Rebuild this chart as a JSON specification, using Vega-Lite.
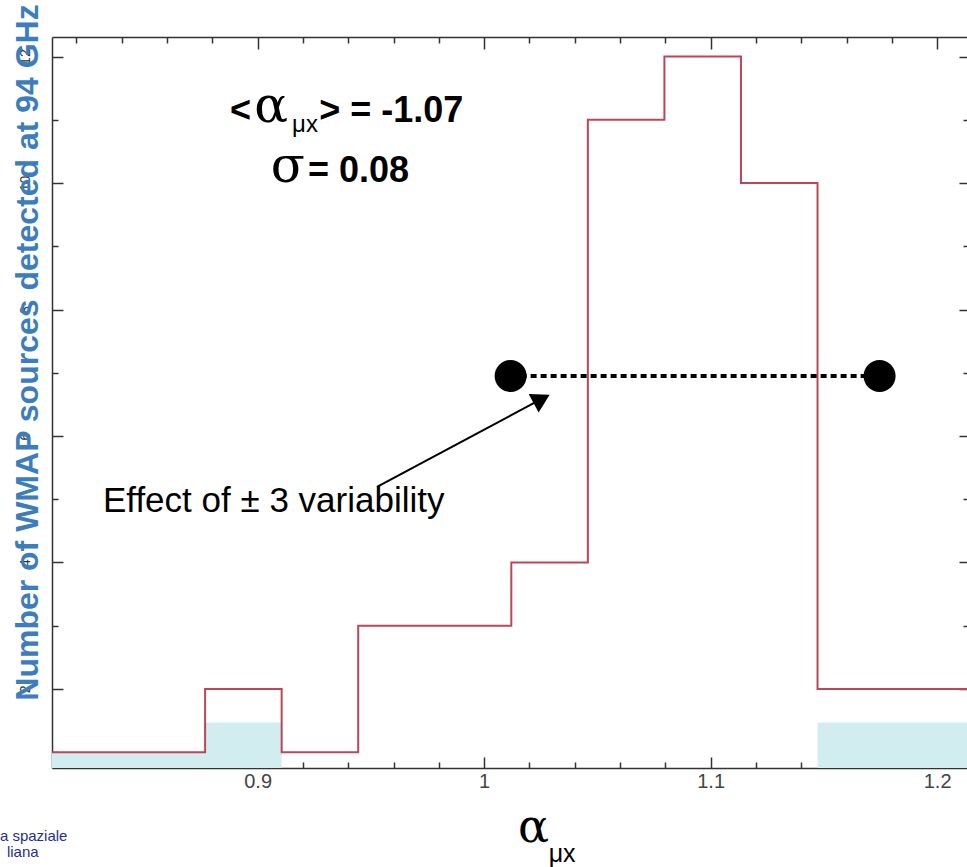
{
  "$schema": "https://vega.github.io/schema/vega-lite/v6.json",
  "width": 915,
  "height": 731,
  "autosize": "none",
  "padding": {"left": 52, "top": 37, "right": 0, "bottom": 99},
  "background": "white",
  "config": {"view": {"stroke": null}, "font": "Liberation Sans"},
  "datasets": {
    "hist": [
      {"x": 0.8092, "y": 1}, {"x": 0.843, "y": 1}, {"x": 0.8768, "y": 2}, {"x": 0.9106, "y": 1},
      {"x": 0.9444, "y": 3}, {"x": 0.9782, "y": 3}, {"x": 1.012, "y": 4}, {"x": 1.0458, "y": 11},
      {"x": 1.0796, "y": 12}, {"x": 1.1134, "y": 10}, {"x": 1.1472, "y": 2}, {"x": 1.181, "y": 2},
      {"x": 1.2148, "y": 2}
    ],
    "hatch": [
      {"x": 0.8092, "x2": 0.8768, "y": 0.75, "y2": 1},
      {"x": 0.8768, "x2": 0.9106, "y": 0.75, "y2": 1.47},
      {"x": 1.1472, "x2": 1.2148, "y": 0.75, "y2": 1.47}
    ]
  },
  "encoding": {
    "x": {"field": "x", "type": "quantitative", "scale": {"domain": [0.8092, 1.2132], "nice": false, "zero": false}, "axis": null},
    "y": {"field": "y", "type": "quantitative", "scale": {"domain": [0.75, 12.31], "nice": false, "zero": false}, "axis": null}
  },
  "layer": [
    {
      "data": {"name": "hatch"},
      "mark": {"type": "rect", "color": "#d2edef", "clip": true},
      "encoding": {
        "x": {"field": "x", "type": "quantitative", "scale": {"domain": [0.8092, 1.2132], "nice": false, "zero": false},
          "axis": {"orient": "bottom", "title": null, "grid": false,
            "values": [0.82,0.84,0.86,0.88,0.9,0.92,0.94,0.96,0.98,1.0,1.02,1.04,1.06,1.08,1.1,1.12,1.14,1.16,1.18,1.2],
            "labelExpr": "abs(datum.value*10-round(datum.value*10))<0.001 ? format(datum.value,'~g') : ''",
            "tickSize": {"condition": {"test": "abs(datum.value*10-round(datum.value*10))<0.001", "value": -11}, "value": -6},
            "tickColor": "#333", "tickWidth": 1.5, "domainColor": "#333", "domainWidth": 1.5,
            "labelFont": "Liberation Sans", "labelFontSize": 20, "labelColor": "#444", "labelPadding": 14, "labelFlush": false}},
        "x2": {"field": "x2"},
        "y": {"field": "y", "type": "quantitative", "scale": {"domain": [0.75, 12.31], "nice": false, "zero": false},
          "axis": {"orient": "left", "grid": false,
            "values": [1,2,3,4,5,6,7,8,9,10,11,12],
            "labelExpr": "datum.value % 2 === 0 ? datum.label : ''",
            "tickSize": {"condition": {"test": "datum.value % 2 === 0", "value": -11}, "value": -6},
            "tickColor": "#333", "tickWidth": 1.5, "domainColor": "#333", "domainWidth": 1.5,
            "labelAngle": -90, "labelFontSize": 14, "labelColor": "#333", "labelPadding": 31,
            "title": "Number of WMAP sources detected at 94 GHz",
            "titleFont": "Liberation Sans", "titleFontSize": 32, "titleFontWeight": "bold", "titleColor": "#3b7dbd",
            "titleAngle": -90, "titleX": -15, "titleY": 315, "titleBaseline": "alphabetic", "titleAlign": "center"}},
        "y2": {"field": "y2"}
      }
    },
    {
      "data": {"name": "hist"},
      "mark": {"type": "line", "interpolate": "step-after", "color": "#be4555", "strokeWidth": 2, "clip": true},
      "encoding": {
        "x": {"field": "x", "type": "quantitative", "scale": {"domain": [0.8092, 1.2132], "nice": false, "zero": false},
          "axis": {"orient": "top", "title": null, "grid": false, "labels": false,
            "values": [0.82,0.84,0.86,0.88,0.9,0.92,0.94,0.96,0.98,1.0,1.02,1.04,1.06,1.08,1.1,1.12,1.14,1.16,1.18,1.2],
            "tickSize": {"condition": {"test": "abs(datum.value*10-round(datum.value*10))<0.001", "value": -12}, "value": -6},
            "tickColor": "#333", "tickWidth": 1.5, "domainColor": "#333", "domainWidth": 1.5}},
        "y": {"field": "y", "type": "quantitative", "scale": {"domain": [0.75, 12.31], "nice": false, "zero": false},
          "axis": {"orient": "right", "title": null, "grid": false, "labels": false, "domain": false,
            "values": [1,2,3,4,5,6,7,8,9,10,11,12],
            "tickSize": {"condition": {"test": "datum.value % 2 === 0", "value": -8}, "value": -4},
            "tickColor": "#333", "tickWidth": 1.5}}
      }
    },
    {
      "data": {"values": [{"x": 1.0117, "x2": 1.1746, "y": 6.95}]},
      "mark": {"type": "rule", "color": "black", "strokeWidth": 4, "strokeDash": [6, 4]},
      "encoding": {"x2": {"field": "x2"}}
    },
    {
      "data": {"values": [{"x": 1.0117, "y": 6.95}, {"x": 1.1746, "y": 6.95}]},
      "mark": {"type": "point", "shape": "circle", "filled": true, "color": "black", "opacity": 1, "size": 1024}
    },
    {
      "data": {"values": [{"x": 0.9527, "y": 5.194, "x2": 1.0254, "y2": 6.586}]},
      "mark": {"type": "rule", "color": "black", "strokeWidth": 2},
      "encoding": {"x2": {"field": "x2"}, "y2": {"field": "y2"}}
    },
    {
      "data": {"values": [{"x": 1.0254, "y": 6.586}]},
      "mark": {"type": "point", "shape": "triangle-up", "filled": true, "color": "black", "opacity": 1, "size": 441, "angle": 61.6}
    },
    {
      "data": {"values": [{"x": 0.8878, "y": 10.966, "t": "<"}, {"x": 0.9272, "y": 10.966, "t": "> = -1.07"}, {"x": 0.9222, "y": 10.017, "t": "= 0.08"}]},
      "mark": {"type": "text", "font": "Liberation Sans", "fontWeight": "bold", "fontSize": 36, "align": "left", "baseline": "alphabetic", "color": "black"},
      "encoding": {"text": {"field": "t"}}
    },
    {
      "data": {"values": [{"x": 0.8985, "y": 10.966, "t": "α"}, {"x": 0.9058, "y": 10.017, "t": "σ"}]},
      "mark": {"type": "text", "font": "DejaVu Serif", "fontSize": 50, "align": "left", "baseline": "alphabetic", "color": "black"},
      "encoding": {"text": {"field": "t"}}
    },
    {
      "data": {"values": [{"x": 0.9152, "y": 10.808, "t": "μx"}]},
      "mark": {"type": "text", "font": "Liberation Sans", "fontSize": 24, "align": "left", "baseline": "alphabetic", "color": "black"},
      "encoding": {"text": {"field": "t"}}
    },
    {
      "data": {"values": [{"x": 0.8317, "y": 4.799, "t": "Effect of ± 3 variability"}]},
      "mark": {"type": "text", "font": "Liberation Sans", "fontSize": 35, "align": "left", "baseline": "alphabetic", "color": "black"},
      "encoding": {"text": {"field": "t"}}
    },
    {
      "data": {"values": [{"x": 1.0149, "y": -0.419, "t": "α"}]},
      "mark": {"type": "text", "font": "DejaVu Serif", "fontSize": 46, "align": "left", "baseline": "alphabetic", "color": "black"},
      "encoding": {"text": {"field": "t"}}
    },
    {
      "data": {"values": [{"x": 1.0285, "y": -0.735, "t": "μx"}]},
      "mark": {"type": "text", "font": "Liberation Sans", "fontSize": 25, "align": "left", "baseline": "alphabetic", "color": "black"},
      "encoding": {"text": {"field": "t"}}
    },
    {
      "data": {"values": [{"x": 0.7862, "y": -0.404, "t": "a spaziale"}, {"x": 0.7893, "y": -0.656, "t": "liana"}]},
      "mark": {"type": "text", "font": "Liberation Sans", "fontSize": 15, "align": "left", "baseline": "alphabetic", "color": "#1f2f8f"},
      "encoding": {"text": {"field": "t"}}
    }
  ],
  "resolve": {"axis": {"x": "independent", "y": "independent"}}
}
